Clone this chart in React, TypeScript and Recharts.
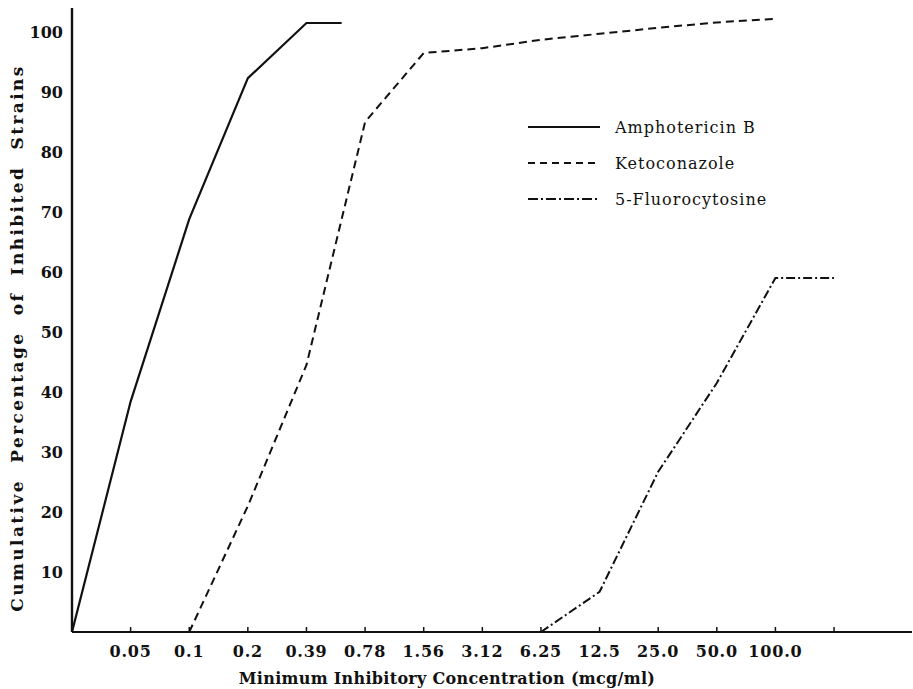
import { LineChart, Line, XAxis, YAxis, Legend, Label } from 'recharts'

// MIC steps on the x axis (index 0 is the origin, last tick has no label)
const concentrations = ['0', '0.05', '0.1', '0.2', '0.39', '0.78', '1.56', '3.12', '6.25', '12.5', '25.0', '50.0', '100.0', '']
const xTicks = [1, 2, 3, 4, 5, 6, 7, 8, 9, 10, 11, 12, 13]
const yTicks = [10, 20, 30, 40, 50, 60, 70, 80, 90, 100]

const amphoSteps = [0, 1, 2, 3, 4, 4.6]
const amphoPct = [0, 38.4, 68.8, 92.3, 101.5, 101.5]

const ketoSteps = [2, 3, 4, 5, 6, 7, 8, 9, 10, 11, 12]
const ketoPct = [0, 21, 44.5, 85, 96.5, 97.3, 98.7, 99.7, 100.7, 101.6, 102.2]

const fluoroSteps = [8, 9, 10, 11, 12, 13]
const fluoroPct = [0, 6.7, 26.7, 41.5, 59, 59]

const FONT = "'DejaVu Serif', serif"
const INK = '#111'

const toPoints = (steps: number[], pct: number[]) => steps.map((step, i) => ({ step, pct: pct[i] }))

const series = [
  { name: 'Amphotericin B', data: toPoints(amphoSteps, amphoPct), dash: undefined, width: 2.2 },
  { name: 'Ketoconazole', data: toPoints(ketoSteps, ketoPct), dash: '8 5', width: 2 },
  { name: '5-Fluorocytosine', data: toPoints(fluoroSteps, fluoroPct), dash: '9 3 2 3', width: 2 },
]

const legendDash: Record<string, string | undefined> = {
  'Amphotericin B': undefined,
  Ketoconazole: '7 5',
  '5-Fluorocytosine': '10 3 2 3',
}

function ConcTick({ x, y, payload }: any) {
  return (
    <g>
      <line x1={x} x2={x} y1={y - 14} y2={y - 19} stroke={INK} strokeWidth={1.5} />
      <text x={x} y={y} dy="0.71em" textAnchor="middle" fontFamily={FONT} fontSize={16} fontWeight="bold" fill={INK} letterSpacing={0.8}>
        {concentrations[payload.value]}
      </text>
    </g>
  )
}

function DrugLegend() {
  return (
    <div style={{ fontFamily: FONT, fontSize: 16, color: INK, letterSpacing: 1 }}>
      {series.map((s) => (
        <div key={s.name} style={{ display: 'flex', alignItems: 'center', height: 36 }}>
          <svg width={72} height={6} style={{ marginRight: 15 }}>
            <line x1={0} x2={72} y1={3} y2={3} stroke={INK} strokeWidth={2} strokeDasharray={legendDash[s.name]} />
          </svg>
          <span>{s.name}</span>
        </div>
      ))}
    </div>
  )
}

export default function App() {
  return (
    <div style={{ position: 'absolute', left: 0, top: 0, background: '#fff' }}>
      <LineChart width={913} height={689} margin={{ top: 8, right: 1, bottom: 0, left: 0 }}>
        <XAxis
          type="number"
          dataKey="step"
          domain={[0, 14.33]}
          ticks={xTicks}
          interval={0}
          allowDataOverflow
          height={57}
          tickSize={0}
          tickMargin={14}
          tickLine={false}
          tick={<ConcTick />}
          axisLine={{ stroke: INK, strokeWidth: 2 }}
        >
          <Label
            content={() => (
              <text x={447} y={684} textAnchor="middle" fontFamily={FONT} fontSize={16} fontWeight="bold" fill={INK} letterSpacing={0.3}>
                Minimum Inhibitory Concentration (mcg/ml)
              </text>
            )}
          />
        </XAxis>
        <YAxis
          type="number"
          domain={[0, 104]}
          ticks={yTicks}
          interval={0}
          allowDataOverflow
          width={72}
          tickSize={0}
          tickMargin={9}
          tickLine={false}
          tick={{ fontFamily: FONT, fontSize: 16, fontWeight: 'bold', fill: INK }}
          axisLine={{ stroke: INK, strokeWidth: 2.4 }}
        >
          <Label
            content={() => (
              <text
                x={17}
                y={338}
                transform="rotate(-90, 17, 338)"
                textAnchor="middle"
                dominantBaseline="central"
                fontFamily={FONT}
                fontSize={17}
                fontWeight="bold"
                fill={INK}
                letterSpacing={2.4}
                wordSpacing={8}
              >
                Cumulative Percentage of Inhibited Strains
              </text>
            )}
          />
        </YAxis>
        <Legend
          layout="vertical"
          align="center"
          verticalAlign="middle"
          wrapperStyle={{ left: 528, top: 109, width: 280 }}
          content={() => <DrugLegend />}
        />
        {series.map((s) => (
          <Line
            key={s.name}
            name={s.name}
            data={s.data}
            dataKey="pct"
            type="linear"
            stroke={INK}
            strokeWidth={s.width}
            strokeDasharray={s.dash}
            dot={false}
            activeDot={false}
            isAnimationActive={false}
          />
        ))}
      </LineChart>
    </div>
  )
}
